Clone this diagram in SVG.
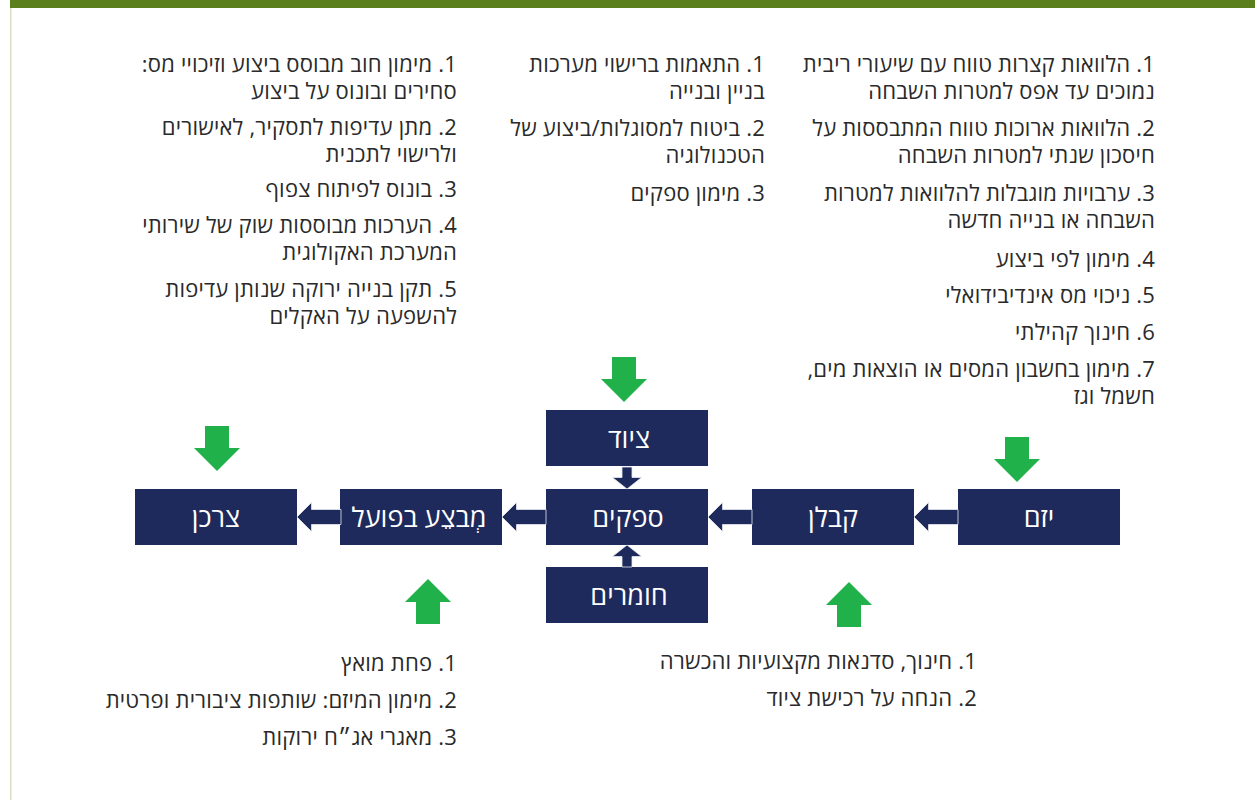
<svg xmlns="http://www.w3.org/2000/svg" width="1255" height="800" viewBox="0 0 1255 800">
  <style>
    .node rect { fill: #1f2a5c; }
    .label { font-family: "Open Sans", "Liberation Sans", "DejaVu Sans", sans-serif; font-size: 27px; fill: #ffffff; text-anchor: middle; direction: rtl; }
    .t { font-family: "Open Sans", "Liberation Sans", "DejaVu Sans", sans-serif; font-size: 22px; letter-spacing: 0.2px; fill: #2a2a2a; direction: rtl; text-anchor: start; }
    .conn { fill: #1f2a5c; stroke: #e6e8f0; stroke-width: 0.8; }
    .green { fill: #21b14b; }
  </style>
  <defs>
    <!-- navy connector, tip at origin, pointing left -->
    <polygon id="arrowLeft" points="0,0 14.5,-14.5 14.5,-7.5 44,-7.5 44,7.5 14.5,7.5 14.5,14.5"/>
    <!-- navy connector, tip at origin, pointing down -->
    <polygon id="arrowDown" points="0,0 -14.5,-11.5 -5,-11.5 -5,-22 5,-22 5,-11.5 14.5,-11.5"/>
    <!-- green block arrow, tip at origin, pointing down -->
    <polygon id="greenDown" points="0,0 -23,-23 -12,-23 -12,-45 12,-45 12,-23 23,-23"/>
  </defs>

  <rect x="0" y="0" width="1255" height="800" fill="#ffffff"/>
  <!-- page frame -->
  <rect x="10" y="0" width="1245" height="8" fill="#5a7f1c"/>
  <rect x="10" y="8" width="1.5" height="792" fill="#d6dfc2"/>

  <!-- incentive lists -->
  <g id="list-developer">
    <text class="t" x="1155" y="72">1. הלוואות קצרות טווח עם שיעורי ריבית</text>
    <text class="t" x="1155" y="99">נמוכים עד אפס למטרות השבחה</text>
    <text class="t" x="1155" y="136">2. הלוואות ארוכות טווח המתבססות על</text>
    <text class="t" x="1155" y="163">חיסכון שנתי למטרות השבחה</text>
    <text class="t" x="1155" y="201">3. ערבויות מוגבלות להלוואות למטרות</text>
    <text class="t" x="1155" y="228">השבחה או בנייה חדשה</text>
    <text class="t" x="1155" y="267">4. מימון לפי ביצוע</text>
    <text class="t" x="1155" y="303">5. ניכוי מס אינדיבידואלי</text>
    <text class="t" x="1155" y="340">6. חינוך קהילתי</text>
    <text class="t" x="1155" y="377">7. מימון בחשבון המסים או הוצאות מים,</text>
    <text class="t" x="1155" y="404">חשמל וגז</text>
  </g>
  <g id="list-equipment">
    <text class="t" x="765" y="72">1. התאמות ברישוי מערכות</text>
    <text class="t" x="765" y="99">בניין ובנייה</text>
    <text class="t" x="765" y="136">2. ביטוח למסוגלות/ביצוע של</text>
    <text class="t" x="765" y="163">הטכנולוגיה</text>
    <text class="t" x="765" y="201">3. מימון ספקים</text>
  </g>
  <g id="list-consumer">
    <text class="t" x="457" y="72">1. מימון חוב מבוסס ביצוע וזיכויי מס:</text>
    <text class="t" x="457" y="99">סחירים ובונוס על ביצוע</text>
    <text class="t" x="457" y="135">2. מתן עדיפות לתסקיר, לאישורים</text>
    <text class="t" x="457" y="162">ולרישוי לתכנית</text>
    <text class="t" x="457" y="197">3. בונוס לפיתוח צפוף</text>
    <text class="t" x="457" y="233">4. הערכות מבוססות שוק של שירותי</text>
    <text class="t" x="457" y="260">המערכת האקולוגית</text>
    <text class="t" x="457" y="297">5. תקן בנייה ירוקה שנותן עדיפות</text>
    <text class="t" x="457" y="324">להשפעה על האקלים</text>
  </g>
  <g id="list-builder">
    <text class="t" x="457" y="671">1. פחת מואץ</text>
    <text class="t" x="457" y="708">2. מימון המיזם: שותפות ציבורית ופרטית</text>
    <text class="t" x="457" y="745">3. מאגרי אג״ח ירוקות</text>
  </g>
  <g id="list-contractor">
    <text class="t" x="977" y="669">1. חינוך, סדנאות מקצועיות והכשרה</text>
    <text class="t" x="977" y="706">2. הנחה על רכישת ציוד</text>
  </g>

  <!-- green incentive arrows -->
  <g id="incentive-arrows" class="green">
    <use href="#greenDown" x="217" y="471"/>
    <use href="#greenDown" x="624" y="402"/>
    <use href="#greenDown" x="1017" y="482"/>
    <use href="#greenDown" transform="translate(428,579) rotate(180)"/>
    <use href="#greenDown" transform="translate(849,582) rotate(180)"/>
  </g>

  <!-- nodes -->
  <g id="node-consumer" class="node">
    <rect x="135" y="489" width="162" height="56"/>
    <text class="label" x="216" y="527">צרכן</text>
  </g>
  <g id="node-builder" class="node">
    <rect x="340" y="489" width="162" height="56"/>
    <text class="label" x="419" y="527">מְבצֵע בפועל</text>
  </g>
  <g id="node-suppliers" class="node">
    <rect x="546" y="489" width="162" height="56"/>
    <text class="label" x="628" y="527">ספקים</text>
  </g>
  <g id="node-equipment" class="node">
    <rect x="546" y="410" width="162" height="56"/>
    <text class="label" x="629" y="448">ציוד</text>
  </g>
  <g id="node-materials" class="node">
    <rect x="546" y="567" width="162" height="56"/>
    <text class="label" x="629" y="605">חומרים</text>
  </g>
  <g id="node-contractor" class="node">
    <rect x="752" y="489" width="162" height="56"/>
    <text class="label" x="833" y="527">קבלן</text>
  </g>
  <g id="node-developer" class="node">
    <rect x="958" y="489" width="162" height="56"/>
    <text class="label" x="1039" y="527">יזם</text>
  </g>

  <!-- connectors -->
  <g id="connectors" class="conn">
    <use href="#arrowLeft" x="914" y="517"/>
    <use href="#arrowLeft" x="708" y="517"/>
    <use href="#arrowLeft" x="502" y="517"/>
    <use href="#arrowLeft" x="297" y="517"/>
    <use href="#arrowDown" x="627" y="489"/>
    <use href="#arrowDown" transform="translate(627,545) rotate(180)"/>
  </g>
</svg>
